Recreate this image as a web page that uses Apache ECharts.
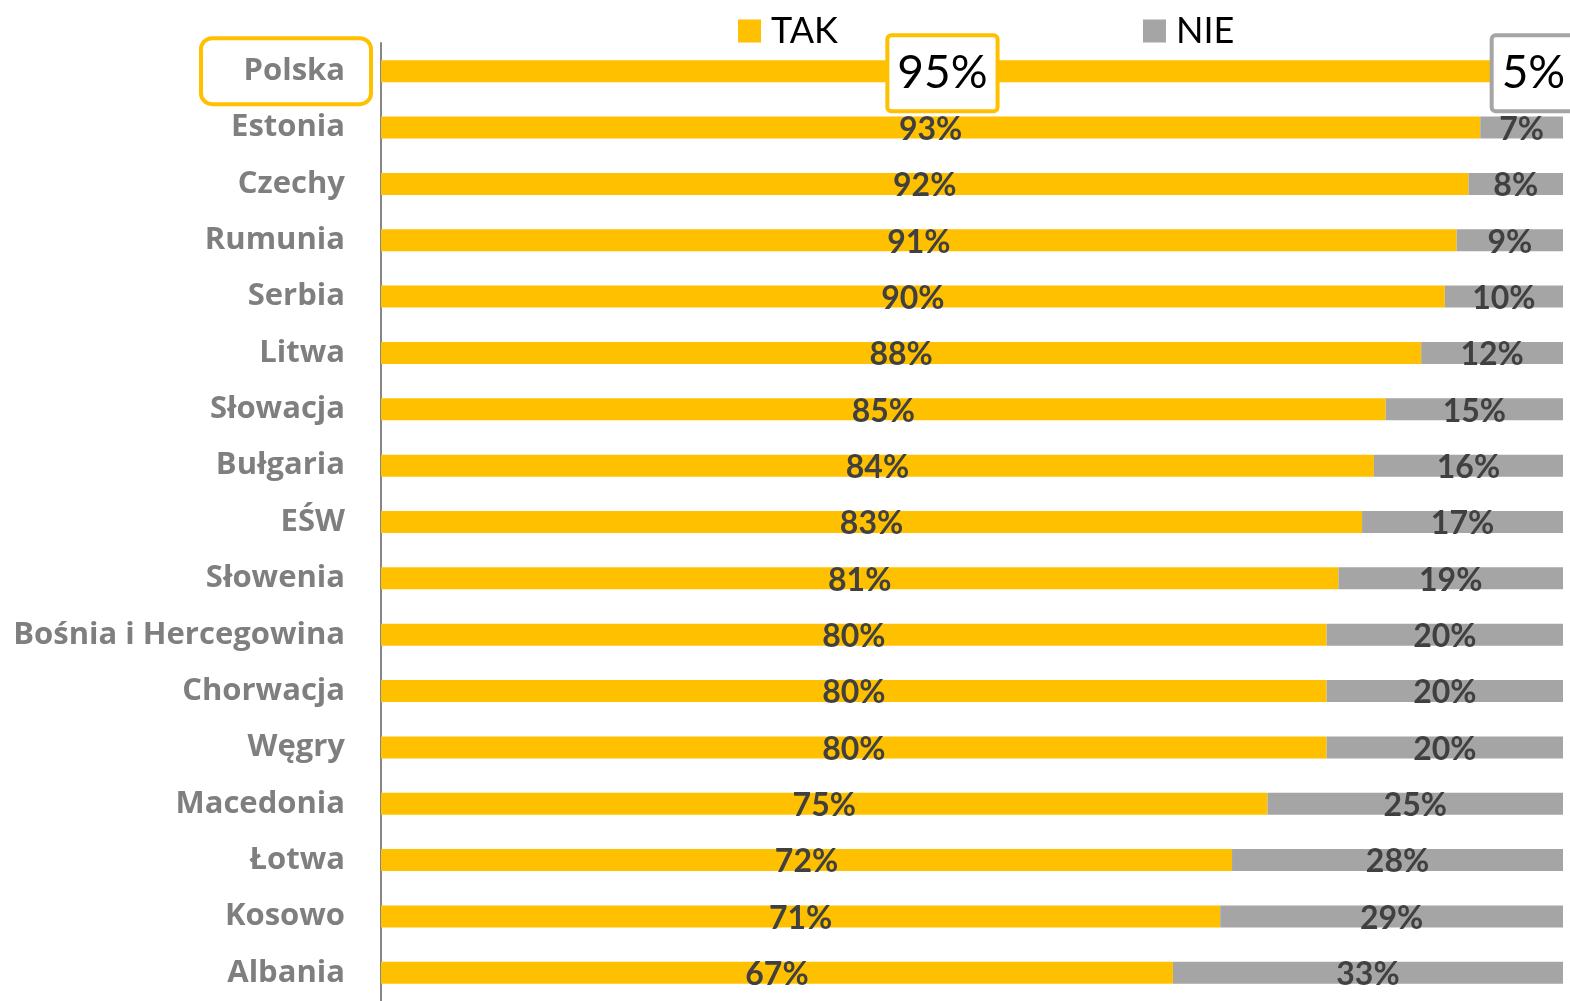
<!DOCTYPE html>
<html>
<head>
<meta charset="utf-8">
<script src="https://cdn.jsdelivr.net/npm/echarts@6/dist/echarts.min.js"></script>
<style>
html,body{margin:0;padding:0;background:#fff;}
#main{width:1570px;height:1001px;}
</style>
</head>
<body>
<div id="main"></div>
<script>
var countries = ['Polska','Estonia','Czechy','Rumunia','Serbia','Litwa','Słowacja','Bułgaria','EŚW','Słowenia','Bośnia i Hercegowina','Chorwacja','Węgry','Macedonia','Łotwa','Kosowo','Albania'];
var tak = [95,93,92,91,90,88,85,84,83,81,80,80,80,75,72,71,67];
var nie = [5,7,8,9,10,12,15,16,17,19,20,20,20,25,28,29,33];

var YELLOW = '#FFC000';
var GREY = '#A5A5A5';

// pierwszy wiersz (Polska) ma wyróżnione etykiety w ramkach
function buildData(vals, border){
	var out = [];
	for(var i=0;i<vals.length;i++){
		if(i==0){
			out.push({
				value: vals[i],
				label: {
					fontSize: 46,
					fontWeight: 'normal',
					color: '#000',
					lineHeight: 52,
					backgroundColor: '#fff',
					borderColor: border,
					borderWidth: 4,
					borderRadius: 2,
					padding: [10, 8, 10, 8]
				}
			});
		}else{
			out.push(vals[i]);
		}
	}
	return out;
}

var chart = echarts.init(document.getElementById('main'));
var labelBase = {
	show: true,
	position: 'inside',
	formatter: '{c}%',
	fontFamily: 'Lato',
	fontWeight: 'bold',
	fontSize: 32,
	color: '#404040',
	offset: [0, 2]
};
var option = {
	animation: false,
	backgroundColor: '#fff',
	textStyle: {fontFamily: 'Lato'},
	legend: {
		data: ['TAK','NIE'],
		left: 733,
		top: 8,
		itemWidth: 23,
		itemHeight: 23,
		itemGap: 305,
		icon: 'rect',
		textStyle: {fontSize: 36, color: '#000', fontFamily: 'Lato', padding: [0, 0, 0, 5]}
	},
	grid: {left: 381, right: 7, top: 43, height: 964, containLabel: false},
	xAxis: {
		type: 'value',
		min: 0,
		max: 100,
		show: false
	},
	yAxis: {
		type: 'category',
		data: countries,
		inverse: true,
		axisLine: {show: true, lineStyle: {color: '#868686', width: 2}},
		axisTick: {show: false},
		splitLine: {show: false},
		axisLabel: {
			margin: 36,
			fontSize: 31,
			fontWeight: 'bold',
			color: '#7F7F7F',
			fontFamily: 'Open Sans',
			lineHeight: 36,
			padding: [8, 0, 0, 0]
		}
	},
	series: [
		{
			name: 'TAK',
			type: 'bar',
			stack: 'a',
			barWidth: 22,
			itemStyle: {color: YELLOW},
			label: labelBase,
			data: buildData(tak, YELLOW)
		},
		{
			name: 'NIE',
			type: 'bar',
			stack: 'a',
			barWidth: 22,
			itemStyle: {color: GREY},
			label: labelBase,
			data: buildData(nie, GREY)
		}
	]
};
chart.setOption(option);

// ramka wokół etykiety "Polska"
var py = chart.convertToPixel({yAxisIndex: 0}, countries[0]);
chart.setOption({
	graphic: [{
		type: 'rect',
		shape: {x: 201, y: py - 33, width: 170, height: 66, r: 11},
		style: {fill: 'none', stroke: YELLOW, lineWidth: 4},
		z: 10
	}]
});
</script>
</body>
</html>
